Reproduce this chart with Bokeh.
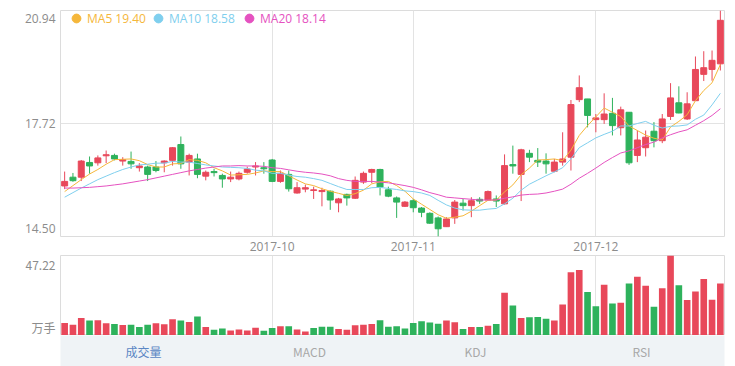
import pandas as pd
from bokeh.plotting import figure
from bokeh.layouts import column
from bokeh.models import (ColumnDataSource, FixedTicker, Range1d, Legend,
                          LegendItem, Grid, CustomJSTickFormatter)
from bokeh.core.properties import value
from bokeh.embed import file_html
from bokeh.resources import INLINE

# ---------------- data ----------------
trade_days = pd.bdate_range("2017-08-28", "2017-12-22")
holidays = pd.date_range("2017-10-02", "2017-10-06")
trade_days = trade_days[~trade_days.isin(holidays)]
dates = [d.strftime("%Y-%m-%d") for d in trade_days]
month_labels = ["2017-10", "2017-11", "2017-12"]

open_ = [15.94, 16.19, 16.19, 16.61, 16.60, 16.80, 16.81, 16.65, 16.64, 16.46,
         16.48, 16.48, 16.60, 16.67, 17.12, 16.62, 16.71, 16.22, 16.35, 16.24,
         16.14, 16.14, 16.33, 16.48, 16.46, 16.68, 16.07, 16.27, 15.74, 15.85,
         15.81, 15.78, 15.79, 15.46, 15.70, 15.59, 16.05, 16.33, 16.41, 15.83,
         15.60, 15.36, 15.52, 15.31, 15.16, 15.03, 14.78, 15.03, 15.45, 15.38,
         15.56, 15.54, 15.57, 15.43, 16.55, 16.27, 16.87, 16.67, 16.65, 16.36,
         16.62, 16.76, 18.40, 18.42, 17.83, 17.83, 18.01, 17.60, 18.04, 16.81,
         17.03, 17.50, 17.23, 17.92, 18.31, 17.85, 18.37, 19.12, 19.26, 19.42]
close = [16.07, 16.09, 16.65, 16.51, 16.74, 16.83, 16.71, 16.69, 16.57, 16.51,
         16.27, 16.38, 16.65, 17.03, 16.57, 16.81, 16.27, 16.33, 16.32, 16.14,
         16.19, 16.30, 16.42, 16.51, 16.43, 16.07, 16.30, 15.86, 15.89, 15.89,
         15.83, 15.81, 15.54, 15.57, 15.60, 16.10, 16.30, 16.41, 15.91, 15.65,
         15.48, 15.48, 15.32, 15.19, 14.88, 14.72, 15.00, 15.48, 15.38, 15.52,
         15.51, 15.78, 15.51, 16.52, 16.51, 16.97, 16.76, 16.62, 16.57, 16.62,
         16.71, 18.26, 18.74, 17.95, 17.88, 17.99, 17.66, 18.11, 16.60, 17.25,
         17.33, 17.23, 17.85, 18.45, 18.02, 18.28, 19.26, 19.31, 19.52, 20.66]
high = [16.35, 16.31, 16.68, 16.78, 16.81, 16.95, 16.86, 16.76, 16.92, 16.59,
        16.52, 16.65, 16.67, 17.05, 17.35, 16.86, 16.86, 16.38, 16.43, 16.29,
        16.35, 16.35, 16.49, 16.62, 16.62, 16.71, 16.38, 16.38, 16.05, 15.98,
        15.92, 15.89, 15.81, 15.60, 15.72, 16.21, 16.35, 16.43, 16.43, 15.92,
        15.64, 15.51, 15.57, 15.34, 15.19, 15.07, 15.05, 15.54, 15.57, 15.62,
        15.62, 15.81, 15.67, 16.84, 17.09, 17.00, 16.97, 17.02, 16.87, 16.71,
        17.47, 18.39, 19.09, 18.42, 17.99, 18.58, 18.45, 18.20, 18.04, 17.52,
        17.52, 17.76, 17.99, 18.87, 18.78, 18.61, 19.63, 19.78, 19.80, 20.94]
low = [15.85, 16.06, 16.08, 16.29, 16.52, 16.59, 16.67, 16.52, 16.43, 16.35,
       16.08, 16.33, 16.33, 16.52, 16.43, 16.24, 16.16, 16.10, 16.21, 15.89,
       16.05, 16.10, 16.29, 16.24, 16.29, 16.05, 16.03, 15.78, 15.72, 15.76,
       15.57, 15.36, 15.26, 15.19, 15.38, 15.57, 16.00, 16.02, 15.67, 15.62,
       15.03, 15.34, 15.19, 15.05, 14.86, 14.50, 14.77, 14.86, 15.24, 15.05,
       15.43, 15.52, 15.34, 15.41, 16.29, 15.51, 16.62, 16.48, 16.29, 16.33,
       16.52, 16.38, 18.33, 17.61, 17.47, 17.71, 17.38, 17.38, 16.54, 16.62,
       16.78, 17.04, 17.16, 17.82, 18.01, 17.82, 18.37, 18.93, 18.94, 19.23]

volume = [7.4, 6.4, 10.3, 8.8, 9.0, 7.2, 6.8, 6.2, 6.4, 5.0,
          6.4, 7.2, 6.6, 9.6, 8.8, 8.0, 11.2, 5.0, 3.4, 4.2,
          3.0, 3.6, 3.0, 4.6, 2.8, 4.4, 5.4, 5.4, 3.6, 2.4,
          4.4, 5.2, 5.2, 3.8, 3.4, 6.0, 6.4, 6.8, 9.0, 5.2,
          5.4, 4.2, 7.4, 8.4, 7.6, 6.9, 8.8, 7.8, 3.8, 5.0,
          5.0, 5.8, 6.8, 25.3, 17.7, 10.4, 10.7, 10.9, 9.9, 8.8,
          18.3, 37.3, 38.7, 25.7, 17.3, 29.9, 18.9, 19.3, 30.7, 34.7,
          29.3, 16.9, 27.9, 47.22, 29.7, 20.9, 25.9, 33.3, 21.1, 30.7]
# 1 = rising (red), 0 = falling (green), as coloured in the volume panel
volume_up = [1, 1, 1, 0, 1, 1, 0, 1, 0, 0,
             0, 1, 1, 1, 0, 1, 0, 1, 0, 0,
             1, 1, 1, 1, 0, 0, 1, 0, 1, 1,
             0, 0, 0, 1, 1, 1, 1, 1, 0, 0,
             0, 0, 0, 0, 0, 0, 1, 1, 0, 1,
             0, 1, 0, 1, 0, 1, 0, 0, 0, 1,
             1, 1, 1, 0, 0, 1, 0, 1, 0, 1,
             1, 0, 1, 1, 0, 1, 1, 1, 1, 1]

ma5 = [15.78, 15.95, 16.12, 16.28, 16.41, 16.56, 16.69, 16.70, 16.71, 16.66,
       16.55, 16.48, 16.48, 16.57, 16.58, 16.69, 16.67, 16.60, 16.46, 16.37,
       16.25, 16.26, 16.27, 16.31, 16.37, 16.35, 16.35, 16.23, 16.11, 16.00,
       15.95, 15.86, 15.79, 15.73, 15.67, 15.72, 15.82, 16.00, 16.06, 16.07,
       15.95, 15.79, 15.57, 15.42, 15.27, 15.12, 15.02, 15.05, 15.09, 15.22,
       15.38, 15.53, 15.54, 15.77, 15.97, 16.26, 16.45, 16.68, 16.69, 16.71,
       16.66, 16.96, 17.38, 17.66, 17.91, 18.16, 18.04, 17.92, 17.65, 17.52,
       17.39, 17.30, 17.25, 17.62, 17.78, 17.97, 18.37, 18.66, 18.88, 19.40]
ma10 = [15.62, 15.75, 15.88, 16.00, 16.12, 16.22, 16.32, 16.41, 16.48, 16.54,
        16.56, 16.59, 16.59, 16.64, 16.62, 16.62, 16.58, 16.54, 16.51, 16.48,
        16.47, 16.46, 16.44, 16.39, 16.37, 16.30, 16.30, 16.25, 16.21, 16.19,
        16.15, 16.10, 16.01, 15.92, 15.84, 15.84, 15.84, 15.89, 15.90, 15.87,
        15.84, 15.80, 15.78, 15.74, 15.67, 15.53, 15.40, 15.31, 15.26, 15.25,
        15.25, 15.28, 15.30, 15.43, 15.59, 15.82, 15.99, 16.11, 16.23, 16.34,
        16.46, 16.71, 17.03, 17.17, 17.31, 17.41, 17.50, 17.65, 17.65, 17.72,
        17.78, 17.67, 17.59, 17.64, 17.65, 17.68, 17.84, 17.96, 18.25, 18.58]
ma20 = [15.88, 15.88, 15.89, 15.90, 15.92, 15.94, 15.97, 16.00, 16.04, 16.08,
        16.12, 16.17, 16.22, 16.27, 16.32, 16.37, 16.41, 16.45, 16.48, 16.51,
        16.51, 16.52, 16.51, 16.51, 16.50, 16.46, 16.44, 16.40, 16.36, 16.33,
        16.31, 16.28, 16.23, 16.15, 16.10, 16.07, 16.07, 16.07, 16.05, 16.03,
        15.99, 15.95, 15.90, 15.83, 15.75, 15.69, 15.62, 15.60, 15.58, 15.56,
        15.54, 15.54, 15.54, 15.59, 15.63, 15.68, 15.70, 15.71, 15.74, 15.79,
        15.85, 15.99, 16.16, 16.30, 16.45, 16.61, 16.75, 16.88, 16.94, 17.03,
        17.12, 17.19, 17.31, 17.40, 17.48, 17.54, 17.67, 17.80, 17.95, 18.14]

ma_names = ["MA5", "MA10", "MA20"]
volume_unit = "万手"
tabs = ["成交量", "MACD", "KDJ", "RSI"]

# ---------------- styles ----------------
W = 735
BL, BR = 60, 11            # left / right borders -> frame 664 px wide
H1_FRAME, H2_FRAME = 226, 80
FONT = "Open Sans"
CJK = "Noto Sans CJK SC"
UP, DOWN = "#e8485a", "#2eb25c"
MA_COLORS = ["#f5b73b", "#7fcfee", "#e552c0"]
GRID = "#e3e3e3"
BORDER = "#dcdcdc"
LBL = "#8c8c8c"

n = len(dates)
xs = list(range(n))
month_idx = [next(i for i, d in enumerate(dates) if d.startswith(m))
             for m in month_labels]
month_lbl = {i: m for i, m in zip(month_idx, month_labels)}

src = ColumnDataSource(dict(
    x=xs, high=high, low=low,
    top=[max(o, c) for o, c in zip(open_, close)],
    bottom=[min(o, c) for o, c in zip(open_, close)],
    color=[UP if c >= o else DOWN for o, c in zip(open_, close)],
    ma5=ma5, ma10=ma10, ma20=ma20,
    vol=volume, vcolor=[UP if u else DOWN for u in volume_up],
))

ymin, ymax = min(low), max(high)
ymid = (ymin + ymax) / 2


def style_yaxis(ax, font):
    ax.axis_line_color = None
    ax.major_tick_line_color = None
    ax.minor_tick_line_color = None
    ax.major_tick_out = 0
    ax.major_label_standoff = 5
    ax.major_label_text_color = LBL
    ax.major_label_text_font = font
    ax.major_label_text_font_size = "12px"


# ---------------- price panel ----------------
p1 = figure(width=W, height=10 + H1_FRAME + 19, x_range=Range1d(-0.5, n - 0.5),
            y_range=Range1d(ymin, ymax), output_backend="svg",
            toolbar_location=None,
            min_border_left=BL, min_border_right=BR,
            min_border_top=10, min_border_bottom=19)
p1.outline_line_color = BORDER
p1.xaxis.ticker = FixedTicker(ticks=month_idx)
p1.xaxis.major_label_overrides = month_lbl
p1.xaxis.axis_line_color = None
p1.xaxis.major_tick_line_color = None
p1.xaxis.minor_tick_line_color = None
p1.xaxis.major_tick_out = 0
p1.xaxis.major_label_standoff = 5
p1.xaxis.major_label_text_color = LBL
p1.xaxis.major_label_text_font = FONT
p1.xaxis.major_label_text_font_size = "12px"
p1.xgrid.grid_line_color = GRID
p1.ygrid.ticker = FixedTicker(ticks=[ymid])
p1.ygrid.grid_line_color = GRID

# end labels sit 8 px inside the frame, like the reference
d1 = (ymax - ymin) * 8 / H1_FRAME
p1.yaxis.ticker = FixedTicker(ticks=[ymin + d1, ymid, ymax - d1])
p1.yaxis.formatter = CustomJSTickFormatter(
    args=dict(labels=[f"{ymin:.2f}", f"{ymid:.2f}", f"{ymax:.2f}"]),
    code="return labels[index];")
style_yaxis(p1.yaxis[0], FONT)

p1.segment(x0="x", y0="high", x1="x", y1="low", line_color="color",
           line_width=1, source=src)
p1.vbar(x="x", width=0.72, top="top", bottom="bottom", fill_color="color",
        line_color="color", source=src)
for name, col in zip(["ma5", "ma10", "ma20"], MA_COLORS):
    p1.line(x="x", y=name, line_color=col, line_width=1, source=src)

# legend (one per MA so that each text takes its line colour)
last_vals = [ma5[-1], ma10[-1], ma20[-1]]
legend_x = [5, 87, 178]
for name, col, v, lx in zip(ma_names, MA_COLORS, last_vals, legend_x):
    r = p1.scatter(x=[0], y=[float("nan")], marker="circle", size=9,
                   fill_color=col, line_color=col)
    leg = Legend(items=[LegendItem(label=f"{name} {v:.2f}", renderers=[r])],
                 location=(lx, H1_FRAME - 19), orientation="horizontal",
                 glyph_width=22, glyph_height=22, label_standoff=0,
                 padding=0, margin=0, spacing=0,
                 border_line_color=None, background_fill_alpha=0,
                 label_text_color=col, label_text_font=FONT,
                 label_text_font_size="12px", label_height=22)
    p1.add_layout(leg)

# ---------------- volume panel ----------------
vmax = max(volume)
p2 = figure(width=W, height=H2_FRAME, x_range=p1.x_range,
            y_range=Range1d(0, vmax), output_backend="svg",
            toolbar_location=None, x_axis_location=None,
            min_border_left=BL, min_border_right=BR,
            min_border_top=0, min_border_bottom=0)
p2.outline_line_color = BORDER
for g in p2.grid:
    g.visible = False
p2.add_layout(Grid(dimension=0, ticker=FixedTicker(ticks=month_idx),
                   grid_line_color=GRID))
d2 = vmax * 8 / H2_FRAME
p2.yaxis.ticker = FixedTicker(ticks=[d2, vmax - d2])
p2.yaxis.formatter = CustomJSTickFormatter(
    args=dict(labels=[volume_unit, f"{vmax:.2f}"]),
    code="return labels[index];")
style_yaxis(p2.yaxis[0], CJK)
p2.vbar(x="x", width=0.8, top="vol", bottom=0, fill_color="vcolor",
        line_color=None, source=src)

# ---------------- tab bar ----------------
p3 = figure(width=W, height=31, x_range=Range1d(0, len(tabs)),
            y_range=Range1d(0, 1), output_backend="svg",
            toolbar_location=None, x_axis_location=None, y_axis_location=None,
            min_border_left=BL, min_border_right=BR,
            min_border_top=0, min_border_bottom=0)
p3.outline_line_color = None
p3.background_fill_color = "#eff3f6"
for g in p3.grid:
    g.visible = False
p3.text(x=[i + 0.5 for i in range(len(tabs))], y=[0.5] * len(tabs),
        text=tabs, text_color=["#5a86c4"] + ["#a8a8a8"] * (len(tabs) - 1),
        text_align="center", text_baseline="middle",
        text_font=value(CJK), text_font_size="12px")

layout = column(p1, p2, p3, spacing=0)
open("out.html", "w").write(file_html(layout, INLINE))
